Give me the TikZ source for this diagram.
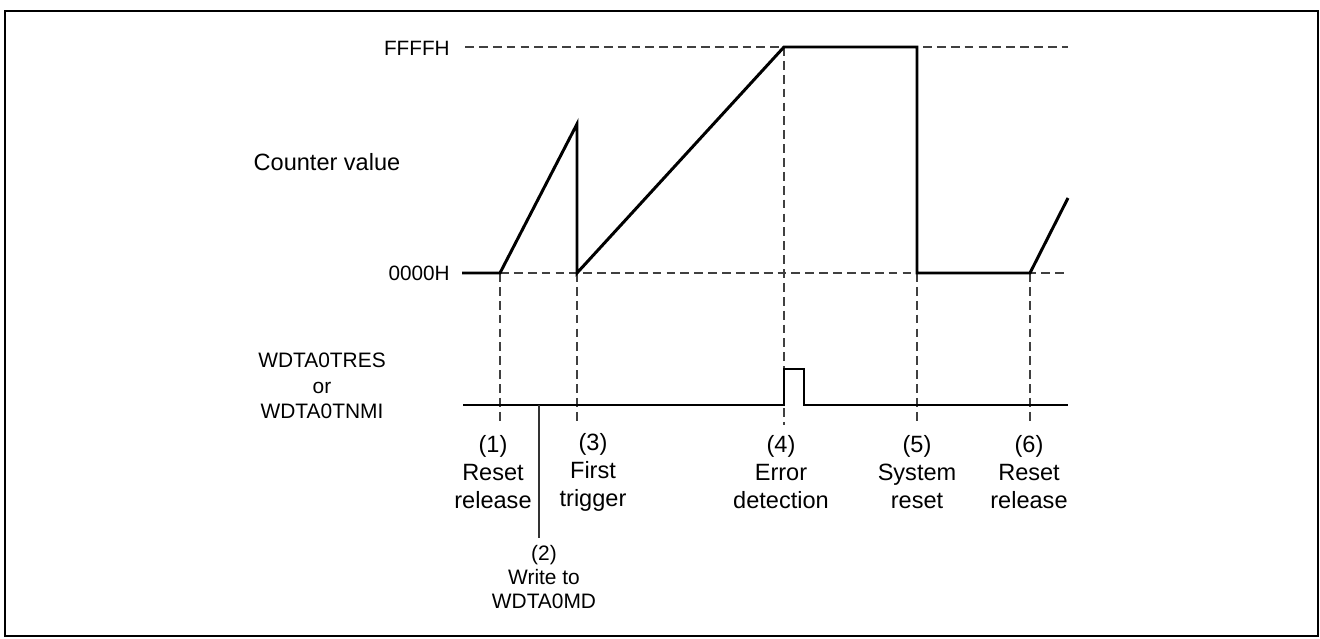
\documentclass[tikz,border=0pt]{standalone}
\usepackage{fontspec}
\setmainfont{Liberation Sans}
\usetikzlibrary{positioning}
\definecolor{ink}{RGB}{0,0,0}
\definecolor{guideGray}{RGB}{64,64,64}
\tikzset{
  frame/.style={draw=ink, line width=1.1pt},
  wave/.style={draw=ink, line width=1.7pt, line join=miter},
  guide/.style={draw=guideGray, line width=0.8pt, dash pattern=on 5pt off 2.9pt},
  marker/.style={draw=ink!80, line width=0.8pt},
  axislabel/.style={font=\fontsize{11.8}{14}\selectfont, inner sep=0pt, anchor=east},
  titlelabel/.style={font=\fontsize{13.4}{16}\selectfont, inner sep=0pt},
  siglabel/.style={font=\fontsize{11.9}{14.5}\selectfont, inner sep=0pt, align=center},
  eventlabel/.style={font=\fontsize{13.4}{15.9}\selectfont, inner sep=0pt, align=center},
  notelabel/.style={font=\fontsize{11.9}{13.9}\selectfont, inner sep=0pt, align=center}
}

\begin{document}
\begin{tikzpicture}[x=0.02cm, y=-0.02cm]
  \useasboundingbox (0,0) rectangle (1320,639);
  \draw[frame] (5,11) rectangle (1318,636);

  % counter levels
  \node[axislabel] (ffff) at (450,48) {FFFFH};
  \node[axislabel] (zero) at (450,273) {0000H};
  \node[titlelabel] (cnt) at (327,162) {Counter value};
  \coordinate (ffffL) at (465,47);
  \coordinate (ffffR) at (1068,47);
  \coordinate (zeroR) at (1068,273);

  % counter waveform points
  \coordinate (z0) at (462,273);
  \coordinate (t1) at (500,273);
  \coordinate (peak) at (577,124);
  \coordinate (t3) at (577,273);
  \coordinate (t4) at (784,47);
  \coordinate (t5top) at (917,47);
  \coordinate (t5) at (917,273);
  \coordinate (t6) at (1030,273);
  \coordinate (wend) at (1068,198);

  % tick ends
  \coordinate (b1) at (500,425);
  \coordinate (b3) at (577,425);
  \coordinate (b4) at (784,425);
  \coordinate (b5) at (917,425);
  \coordinate (b6) at (1030,425);

  \draw[guide] (ffffL) -- (ffffR);
  \draw[guide] (t1) -- (zeroR);
  \draw[guide] (t1) -- (b1);
  \draw[guide] (t3) -- (b3);
  \draw[guide] (t4) -- (b4);
  \draw[guide] (t5) -- (b5);
  \draw[guide] (t6) -- (b6);

  \draw[wave] (z0) -- (t1) -- (peak) -- (t3) -- (t4) -- (t5top) -- (t5) -- (t6) -- (wend);

  % output signal
  \node[siglabel] (sig) at (322,386) {WDTA0TRES\\or\\WDTA0TNMI};
  \coordinate (s0) at (463,405);
  \coordinate (s1) at (784,405);
  \coordinate (s2) at (784,369);
  \coordinate (s3) at (804,369);
  \coordinate (s4) at (804,405);
  \coordinate (s5) at (1068,405);
  \draw[wave] (s0) -- (s1) -- (s2) -- (s3) -- (s4) -- (s5);

  % write to mode register
  \coordinate (w0) at (539,405);
  \coordinate (w1) at (539,538);
  \draw[marker] (w0) -- (w1);

  % event labels
  \node[eventlabel] (e1) at (493,472) {(1)\\Reset\\release};
  \node[notelabel] (e2) at (544,577) {(2)\\Write to\\WDTA0MD};
  \node[eventlabel] (e3) at (593,472) {(3)\\First\\trigger};
  \node[eventlabel] (e4) at (781,472) {(4)\\Error\\detection};
  \node[eventlabel] (e5) at (917,472) {(5)\\System\\reset};
  \node[eventlabel] (e6) at (1029,472) {(6)\\Reset\\release};
\end{tikzpicture}
\end{document}
